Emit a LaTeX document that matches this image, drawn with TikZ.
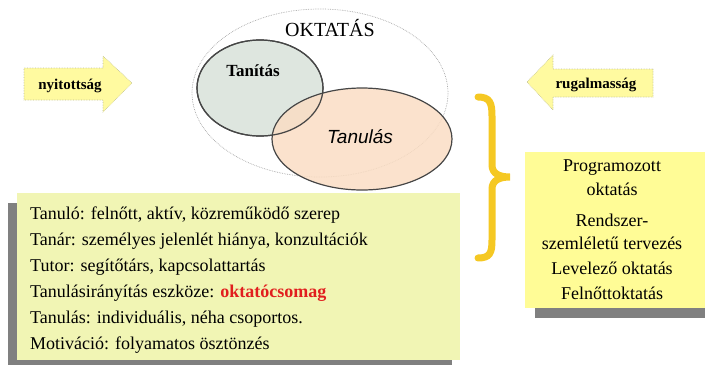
\documentclass[tikz,border=0pt]{standalone}
\usepackage{fontspec}
\setmainfont{Liberation Serif}
\newfontfamily\serf{Liberation Serif}
\newfontfamily\sansf{Liberation Sans}
\definecolor{arrowfill}{RGB}{255,250,160}
\definecolor{arrowline}{RGB}{190,190,150}
\definecolor{tanitasfill}{RGB}{222,230,223}
\definecolor{tanulasfill}{RGB}{250,221,196}
\definecolor{ringline}{RGB}{70,70,70}
\definecolor{bracecol}{RGB}{245,200,35}
\definecolor{leftfill}{RGB}{241,245,180}
\definecolor{rightfill}{RGB}{255,252,150}
\definecolor{shadowcol}{RGB}{128,128,128}
\definecolor{redtext}{RGB}{225,30,30}
\tikzset{
  bigarrow/.style={fill=arrowfill, draw=arrowline, densely dotted, line width=0.6pt},
  arrowtext/.style={font=\serf\fontsize{15}{17}\selectfont\bfseries, inner sep=0pt},
  ring/.style={draw=ringline, line width=1.2pt},
  listtext/.style={font=\serf\fontsize{18}{20}\selectfont, anchor=west, inner sep=0pt},
  righttext/.style={font=\serf\fontsize{18}{20}\selectfont, inner sep=0pt},
}
\begin{document}
\begin{tikzpicture}[x=1pt,y=-1pt]
\useasboundingbox (0,0) rectangle (705,365);
% left arrow (nyitottság)
\draw[bigarrow] (24,68) -- (103,68) -- (103,56) -- (132,83) -- (103,112) -- (103,100) -- (24,100) -- cycle;
\node[arrowtext] (nyit) at (70,86) {nyitottság};
% right arrow (rugalmasság)
\draw[bigarrow] (653,69) -- (553,69) -- (553,55) -- (527,82) -- (553,110) -- (553,97) -- (653,97) -- cycle;
\node[arrowtext] (rugal) at (596,85) {rugalmasság};
% outer ellipse
\draw[gray!70, densely dotted, line width=0.7pt] (320,93) ellipse [x radius=128, y radius=84];
\node[font=\serf\fontsize{20}{22}\selectfont, inner sep=0pt] (oktatas) at (330,28) {OKTATÁS};
% Tanítás
\draw[ring, fill=tanitasfill] (260,88) ellipse [x radius=63, y radius=48];
% Tanulás
\draw[ring, fill=tanulasfill, fill opacity=0.85] (362,139) ellipse [x radius=90, y radius=51];
\draw[ring] (260,88) ellipse [x radius=63, y radius=48];
\node[font=\serf\fontsize{17}{19}\selectfont\bfseries, inner sep=0pt] (tanitas) at (253,71) {Tanítás};
\node[font=\sansf\fontsize{19}{21}\selectfont\itshape, inner sep=0pt] (tanulas) at (360,137) {Tanulás};
% brace
\draw[bracecol, line width=7pt, line cap=round] (478,97) .. controls (490,97) and (492,103) .. (492,116) -- (492,165) .. controls (492,174) and (500,177) .. (510,177) .. controls (500,177) and (492,180) .. (492,189) -- (492,240) .. controls (492,253) and (490,258) .. (478,258);
% right box
\fill[shadowcol] (535,162) rectangle (705,318);
\fill[rightfill] (525,152) rectangle (705,308);
\node[righttext] (r1) at (612,168) {Programozott};
\node[righttext] (r2) at (612,189) {oktatás};
\node[righttext] (r3) at (612,220) {Rendszer-};
\node[righttext] (r4) at (612,243) {szemléletű tervezés};
\node[righttext] (r5) at (612,268) {Levelező oktatás};
\node[righttext] (r6) at (612,293) {Felnőttoktatás};
% left box
\fill[shadowcol] (8,203) rectangle (452,365);
\fill[leftfill] (17,193) rectangle (460,360);
\node[listtext] (l1) at (30,215) {Tanuló: felnőtt, aktív, közreműködő szerep};
\node[listtext] (l2) at (30,241) {Tanár: személyes jelenlét hiánya, konzultációk};
\node[listtext] (l3) at (30,267) {Tutor: segítőtárs, kapcsolattartás};
\node[listtext] (l4) at (30,293) {Tanulásirányítás eszköze: \textcolor{redtext}{\bfseries oktatócsomag}};
\node[listtext] (l5) at (30,319) {Tanulás: individuális, néha csoportos.};
\node[listtext] (l6) at (30,345) {Motiváció: folyamatos ösztönzés};
\end{tikzpicture}
\end{document}
